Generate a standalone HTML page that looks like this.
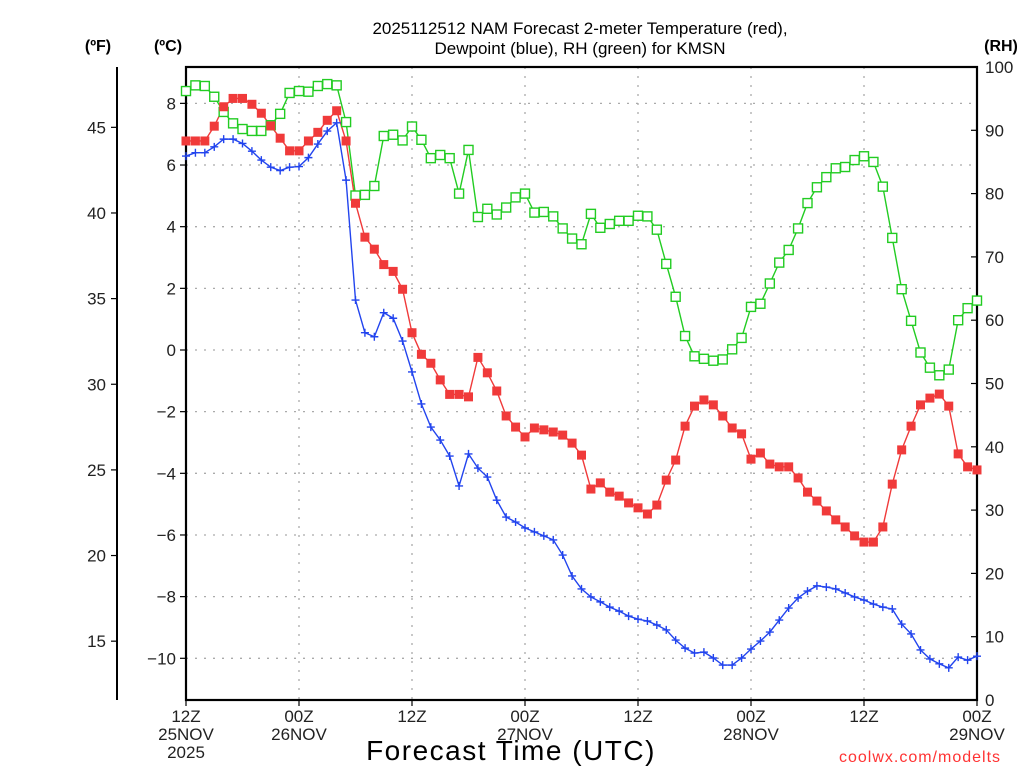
<!DOCTYPE html>
<html><head><meta charset="utf-8"><style>
html,body{margin:0;padding:0;background:#fff;width:1024px;height:768px;overflow:hidden}
svg{display:block;font-family:"Liberation Sans","DejaVu Sans",sans-serif}
</style></head><body>
<svg id="chart" width="1024" height="768" viewBox="0 0 1024 768" xmlns="http://www.w3.org/2000/svg">
<text x="580" y="34" font-size="17" text-anchor="middle" fill="#000">2025112512 NAM Forecast 2-meter Temperature (red),</text>
<text x="580" y="54" font-size="17" text-anchor="middle" fill="#000">Dewpoint (blue), RH (green) for KMSN</text>
<text x="98" y="51" font-size="16" font-weight="bold" text-anchor="middle">(ºF)</text>
<text x="168" y="51" font-size="16" font-weight="bold" text-anchor="middle">(ºC)</text>
<text x="1001" y="51" font-size="16" font-weight="bold" text-anchor="middle">(RH)</text>
<g id="grid"></g>
<g id="axes"></g>
<g id="series"></g>
<text x="511" y="760" font-size="28" text-anchor="middle" letter-spacing="1.5">Forecast Time (UTC)</text>
<text x="920" y="762" font-size="16" text-anchor="middle" fill="#ff3333" letter-spacing="1">coolwx.com/modelts</text>
</svg>
<script>
const tempC = [6.78,6.78,6.78,7.26,7.89,8.16,8.16,7.97,7.68,7.27,6.87,6.46,6.46,6.78,7.06,7.45,7.76,6.78,4.76,3.66,3.27,2.77,2.55,1.97,0.56,-0.14,-0.43,-0.97,-1.44,-1.44,-1.52,-0.24,-0.74,-1.33,-2.14,-2.50,-2.82,-2.53,-2.59,-2.66,-2.76,-3.02,-3.41,-4.51,-4.31,-4.61,-4.74,-4.96,-5.12,-5.32,-5.03,-4.22,-3.57,-2.47,-1.82,-1.62,-1.78,-2.14,-2.53,-2.72,-3.54,-3.34,-3.70,-3.79,-3.79,-4.15,-4.61,-4.90,-5.22,-5.51,-5.74,-6.03,-6.23,-6.23,-5.74,-4.35,-3.24,-2.47,-1.78,-1.56,-1.43,-1.82,-3.37,-3.79,-3.89];
const dewC = [6.29,6.40,6.40,6.59,6.84,6.84,6.70,6.45,6.16,5.93,5.82,5.93,5.95,6.24,6.68,7.10,7.37,5.51,1.62,0.56,0.43,1.21,1.03,0.29,-0.71,-1.75,-2.50,-2.92,-3.44,-4.41,-3.37,-3.83,-4.12,-4.87,-5.42,-5.58,-5.77,-5.90,-6.03,-6.16,-6.65,-7.33,-7.75,-8.01,-8.17,-8.34,-8.47,-8.63,-8.73,-8.79,-8.92,-9.08,-9.41,-9.67,-9.83,-9.80,-9.99,-10.22,-10.22,-9.99,-9.70,-9.44,-9.15,-8.76,-8.37,-8.04,-7.82,-7.65,-7.69,-7.75,-7.88,-8.01,-8.11,-8.24,-8.34,-8.40,-8.89,-9.21,-9.73,-10.02,-10.18,-10.31,-9.96,-10.06,-9.93];
const rh = [96.2,97.1,97.0,95.3,92.9,91.1,90.2,89.9,89.9,90.8,92.6,95.9,96.2,96.1,97.0,97.3,97.1,91.3,79.7,79.8,81.2,89.1,89.3,88.4,90.6,88.5,85.6,86.1,85.6,80.0,86.9,76.3,77.6,76.7,77.8,79.4,80.0,77.0,77.1,76.4,74.5,72.9,72.0,76.8,74.6,75.2,75.7,75.7,76.5,76.4,74.3,68.9,63.7,57.5,54.3,53.9,53.6,53.8,55.4,57.2,62.1,62.6,65.8,69.1,71.1,74.5,78.5,81.0,82.6,84.0,84.2,85.3,85.9,85.0,81.1,73.0,64.9,59.9,54.9,52.5,51.3,52.2,60.0,61.9,63.1];
const cTicks = [-10,-8,-6,-4,-2,0,2,4,6,8];
const fTicks = [15,20,25,30,35,40,45];
const rhTicks = [0,10,20,30,40,50,60,70,80,90,100];
const xTickHours = [0,12,24,36,48,60,72,84];
const xTickLabels = [["12Z","25NOV","2025"],["00Z","26NOV"],["12Z"],["00Z","27NOV"],["12Z"],["00Z","28NOV"],["12Z"],["00Z","29NOV"]];

const NS="http://www.w3.org/2000/svg";
const L=186,R=977,T=67,B=700;
const xS=h=>L+h*(R-L)/84;
const yC=c=>350-c*30.83;
const yF=f=>yC((f-32)*5/9);
const yRH=v=>B-v*(B-T)/100;
function mk(tag,attrs,parent){const e=document.createElementNS(NS,tag);for(const k in attrs)e.setAttribute(k,attrs[k]);parent.appendChild(e);return e;}
const grid=document.getElementById('grid'),axes=document.getElementById('axes'),ser=document.getElementById('series');

cTicks.forEach(c=>{
  const y=yC(c);
  const g=mk('line',{x1:L,x2:R,y1:y,y2:y,stroke:'#aaa','stroke-width':1.3,'stroke-dasharray':'2,7'},grid);
  
  
  mk('line',{x1:L-6,x2:L,y1:y,y2:y,stroke:'#000','stroke-width':1.2},axes);
  const t=mk('text',{x:L-10,y:y+6,'font-size':17,'text-anchor':'end',fill:'#222'},axes);
  t.textContent=c<0?'\u2212'+Math.abs(c):String(c);
  
  
});
xTickHours.forEach((h,i)=>{
  const x=xS(h);
  if(h>0&&h<84){
    const g=mk('line',{x1:x,x2:x,y1:T,y2:B,stroke:'#aaa','stroke-width':1.3,'stroke-dasharray':'2,7'},grid);
    
    
  }
  mk('line',{x1:x,x2:x,y1:B,y2:B+6,stroke:'#000','stroke-width':1.2},axes);
  xTickLabels[i].forEach((s,j)=>{
    const t=mk('text',{x:x,y:722+j*18,'font-size':17,'text-anchor':'middle',fill:'#222'},axes);
    t.textContent=s;
    
    
  });
});
mk('line',{x1:117,x2:117,y1:T,y2:B,stroke:'#000','stroke-width':2},axes);
fTicks.forEach(f=>{
  const y=yF(f);
  mk('line',{x1:111,x2:117,y1:y,y2:y,stroke:'#000','stroke-width':1.2},axes);
  const t=mk('text',{x:106,y:y+6,'font-size':17,'text-anchor':'end',fill:'#222'},axes);
  t.textContent=f;
  
  
});
rhTicks.forEach(v=>{
  const y=yRH(v);
  mk('line',{x1:R-6,x2:R,y1:y,y2:y,stroke:'#000','stroke-width':1.2},axes);
  const t=mk('text',{x:985,y:y+6,'font-size':17,'text-anchor':'start',fill:'#222'},axes);
  t.textContent=v;
  
  
});
const fr=mk('rect',{x:L,y:T,width:R-L,height:B-T,fill:'none',stroke:'#000','stroke-width':2.2},axes);



function line(vals,yf,color,name){
  const p=mk('polyline',{points:vals.map((v,i)=>xS(i)+','+yf(v)).join(' '),fill:'none',stroke:color,'stroke-width':1.4},ser);
  
  
}
line(rh,yRH,'#22cc22','rh-line');
line(tempC,yC,'#f03a3a','temperature-line');
line(dewC,yC,'#2244ee','dewpoint-line');
rh.forEach((v,i)=>{
  const r=mk('rect',{x:xS(i)-4.5,y:yRH(v)-4.5,width:9,height:9,fill:'#fff',stroke:'#22cc22','stroke-width':1.4},ser);
  
  
});
tempC.forEach((v,i)=>{
  const r=mk('rect',{x:xS(i)-4.5,y:yC(v)-4.5,width:9,height:9,fill:'#f03a3a'},ser);
  
  
});
dewC.forEach((v,i)=>{
  const x=xS(i),y=yC(v);
  const p=mk('path',{d:`M${x-4},${y}H${x+4}M${x},${y-4}V${y+4}`,stroke:'#2244ee','stroke-width':1.4},ser);
  
  
});
</script>
</body></html>
